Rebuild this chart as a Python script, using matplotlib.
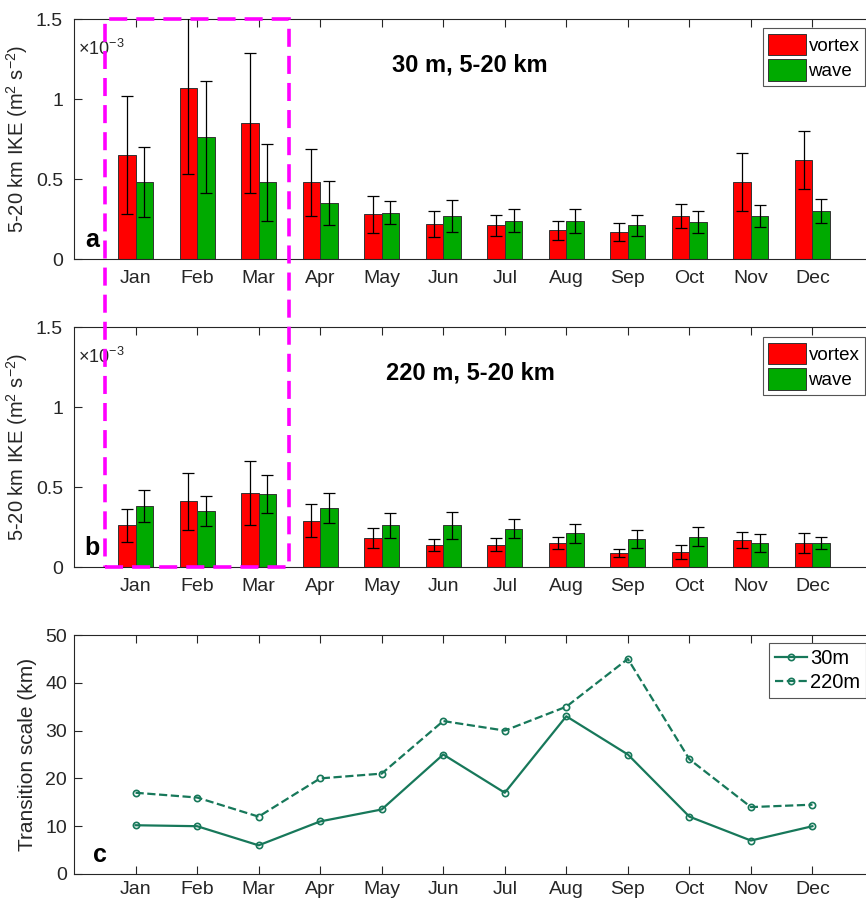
import numpy as np
import matplotlib
matplotlib.use('Agg')
import matplotlib.pyplot as plt
from matplotlib.patches import Rectangle

plt.rcParams['font.family'] = ['Liberation Sans', 'DejaVu Sans']
plt.rcParams['mathtext.fontset'] = 'custom'
plt.rcParams['mathtext.rm'] = 'Liberation Sans'
plt.rcParams['mathtext.it'] = 'Liberation Sans'

months = ['Jan', 'Feb', 'Mar', 'Apr', 'May', 'Jun', 'Jul', 'Aug', 'Sep', 'Oct', 'Nov', 'Dec']

# panel a, 30 m (x 1e-3 m2 s-2)
vortex_30 = [0.65, 1.07, 0.85, 0.48, 0.28, 0.22, 0.21, 0.18, 0.17, 0.27, 0.48, 0.62]
vortex_30_err = [0.37, 0.54, 0.44, 0.21, 0.115, 0.08, 0.065, 0.06, 0.055, 0.075, 0.18, 0.18]
wave_30 = [0.48, 0.76, 0.48, 0.35, 0.29, 0.27, 0.24, 0.24, 0.21, 0.23, 0.27, 0.30]
wave_30_err = [0.22, 0.35, 0.24, 0.14, 0.07, 0.10, 0.07, 0.075, 0.065, 0.07, 0.07, 0.075]

# panel b, 220 m
vortex_220 = [0.26, 0.41, 0.46, 0.29, 0.18, 0.14, 0.14, 0.15, 0.088, 0.095, 0.17, 0.15]
vortex_220_err = [0.105, 0.18, 0.20, 0.105, 0.063, 0.037, 0.043, 0.035, 0.025, 0.045, 0.05, 0.06]
wave_220 = [0.38, 0.35, 0.455, 0.37, 0.26, 0.26, 0.24, 0.21, 0.175, 0.19, 0.15, 0.15]
wave_220_err = [0.10, 0.095, 0.12, 0.095, 0.08, 0.085, 0.06, 0.06, 0.055, 0.06, 0.055, 0.04]

# panel c, transition scale (km)
trans_30 = [10.2, 10, 6, 11, 13.5, 25, 17, 33, 25, 12, 7, 10]
trans_220 = [17, 16, 12, 20, 21, 32, 30, 35, 45, 24, 14, 14.5]

W, H = 866, 901
fig = plt.figure(figsize=(W / 100, H / 100), dpi=100)

def px_axes(left, top, right, bottom):
    return fig.add_axes([left / W, 1 - bottom / H, (right - left) / W, (bottom - top) / H])

axc_col = '#262626'
red = '#FF0000'
green = '#00AA00'
line_col = '#17785A'

x = np.arange(1, 13)
bw = 0.285

def style(ax, size=14, pad=8):
    ax.set_xlim(0, 13)
    ax.set_xticks(x)
    ax.set_xticklabels(months)
    ax.tick_params(direction='in', length=6, top=True, right=True, colors=axc_col, labelsize=size, pad=pad)
    for s in ax.spines.values():
        s.set_color(axc_col)
        s.set_linewidth(0.8)

def bar_panel(ax, v, ve, w, we, title, letter, legend_top):
    ax.bar(x - bw / 2, v, bw, color=red, edgecolor='#333333', linewidth=0.7, label='vortex', zorder=2)
    ax.bar(x + bw / 2, w, bw, color=green, edgecolor='#333333', linewidth=0.7, label='wave', zorder=2)
    ax.errorbar(x - bw / 2, v, yerr=ve, fmt='none', ecolor='black', elinewidth=0.9, capsize=4, capthick=0.9, zorder=3)
    ax.errorbar(x + bw / 2, w, yerr=we, fmt='none', ecolor='black', elinewidth=0.9, capsize=4, capthick=0.9, zorder=3)
    ax.set_ylim(0, 1.5)
    ax.set_yticks([0, 0.5, 1, 1.5])
    ax.set_yticklabels(['0', '0.5', '1', '1.5'])
    style(ax)
    ax.set_ylabel('5-20 km IKE (m$^2$ s$^{-2}$)', fontsize=14.5, color=axc_col, labelpad=4)
    ax.text(0.06, 1.31, r'$\times$10$^{-3}$', fontsize=13, color=axc_col, ha='left', va='center')
    ax.text(6.44, 1.21, title, fontsize=17, fontweight='bold', ha='center', va='center')
    ax.text(0.3, 0.12, letter, fontsize=18, fontweight='bold', ha='center', va='center')
    leg = ax.legend(loc='upper right', bbox_to_anchor=(865 / W, 1 - legend_top / H),
                    bbox_transform=fig.transFigure, fontsize=13.5, fancybox=False,
                    edgecolor='#555555', framealpha=1, handlelength=2.0, handleheight=1.4,
                    handletextpad=0.15, borderpad=0.3, labelspacing=0.2, borderaxespad=0)
    leg.get_frame().set_linewidth(0.8)

ax_a = px_axes(74, 19, 874, 259)
bar_panel(ax_a, vortex_30, vortex_30_err, wave_30, wave_30_err, '30 m, 5-20 km', 'a', 28)

ax_b = px_axes(74, 327, 874, 567)
bar_panel(ax_b, vortex_220, vortex_220_err, wave_220, wave_220_err, '220 m, 5-20 km', 'b', 337)

ax_c = px_axes(74, 635, 874, 874)
ax_c.plot(x, trans_30, '-o', color=line_col, lw=1.6, ms=4.5, mfc='none', mew=1.2, label='30m')
ax_c.plot(x, trans_220, '--o', color=line_col, lw=1.6, ms=4.5, mfc='none', mew=1.2, label='220m')
ax_c.set_ylim(0, 50)
ax_c.set_yticks([0, 10, 20, 30, 40, 50])
style(ax_c, size=14, pad=5)
ax_c.set_ylabel('Transition scale (km)', fontsize=15, color=axc_col, labelpad=6)
ax_c.text(0.42, 4, 'c', fontsize=18, fontweight='bold', ha='center', va='center')
leg = ax_c.legend(loc='upper right', bbox_to_anchor=(866 / W, 1 - 643 / H),
                  bbox_transform=fig.transFigure, fontsize=14.5, fancybox=False,
                  edgecolor='#555555', framealpha=1, handlelength=1.6,
                  handletextpad=0.15, borderpad=0.3, labelspacing=0.25, borderaxespad=0)
leg.get_frame().set_linewidth(0.8)

# magenta dashed box around Jan-Mar, spanning panels a and b
fig.canvas.draw()
p0 = fig.transFigure.inverted().transform(ax_a.transData.transform((0.5, 1.5)))
p1 = fig.transFigure.inverted().transform(ax_b.transData.transform((3.5, 0)))
rect = Rectangle((p0[0], p1[1]), p1[0] - p0[0], p0[1] - p1[1], transform=fig.transFigure,
                 fill=False, edgecolor='#FF00FF', linewidth=2.6, linestyle=(0, (5, 2.5)), zorder=10)
fig.add_artist(rect)

fig.savefig('out.png', dpi=100)
